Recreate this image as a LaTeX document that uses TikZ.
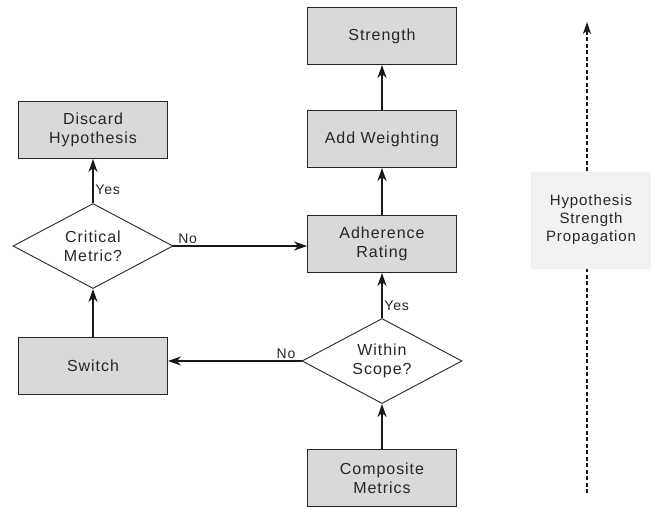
\documentclass[tikz,border=0pt]{standalone}
\usepackage{fontspec}
\setmainfont[LetterSpace=6]{Liberation Sans}
\usetikzlibrary{shapes.geometric,arrows.meta}

\begin{document}
\begin{tikzpicture}[x=1pt,y=-1pt,
  stepbox/.style={draw=black!85, fill=gray!30, line width=0.9pt, minimum width=149pt, minimum height=57pt, align=center, text=black!85, font=\fontsize{16}{19}\selectfont},
  decision/.style={draw=black!85, diamond, aspect=1.9, inner sep=0pt, line width=0.9pt, minimum width=160pt, minimum height=85pt, align=center, text=black!85, font=\fontsize{16}{19}\selectfont},
  flow/.style={draw=black!90, line width=1.8pt, -{Stealth[length=13pt,width=9pt,inset=4pt]}},
  side/.style={draw=black!90, line width=1.3pt, -{Stealth[length=13pt,width=9pt,inset=4pt]}},
  answer/.style={text=black!85, inner sep=1.5pt, font=\fontsize{14}{16}\selectfont}]
\useasboundingbox (0,0) rectangle (651,509);

\node[stepbox] (strength) at (382,36) {Strength};
\node[stepbox] (weight) at (382,139) {Add Weighting};
\node[stepbox] (adher) at (382,244) {Adherence\\Rating};
\node[decision] (scope) at (382,361) {Within\\Scope?};
\node[stepbox] (comp) at (382,478) {Composite\\Metrics};

\node[stepbox] (discard) at (93,130) {Discard\\Hypothesis};
\node[decision] (crit) at (93,246) {Critical\\Metric?};
\node[stepbox] (switch) at (93,366) {Switch};

\node[fill=gray!10, minimum width=120pt, minimum height=97pt, align=center, text=black!85, font=\fontsize{15}{18}\selectfont] (prop) at (591,220) {Hypothesis\\Strength\\Propagation};
\coordinate (pbot) at (587,493);
\coordinate (ptop) at (587,22);

\path[flow] (comp) -- (scope);
\path[flow] (scope) -- node[answer, anchor=west, pos=0.27] {Yes} (adher);
\path[flow] (adher) -- (weight);
\path[flow] (weight) -- (strength);

\path[flow] (switch) -- (crit);
\path[flow] (crit) -- node[answer, anchor=west, pos=0.3] {Yes} (discard);

\path[side] (crit.east) -- node[answer, anchor=south west, pos=0.02] {No} (crit.east -| adher.west);
\path[side] (scope.west) -- node[answer, anchor=south east, pos=0.03] {No} (scope.west -| switch.east);

\path[draw=black!90, line width=1.1pt, dash pattern=on 4pt off 2.5pt] (pbot) -- (pbot |- prop.south);
\path[draw=black!90, line width=1.1pt, dash pattern=on 4pt off 2.5pt, -{Stealth[length=12pt,width=8pt,inset=3.5pt]}] (pbot |- prop.north) -- (ptop);
\end{tikzpicture}
\end{document}
